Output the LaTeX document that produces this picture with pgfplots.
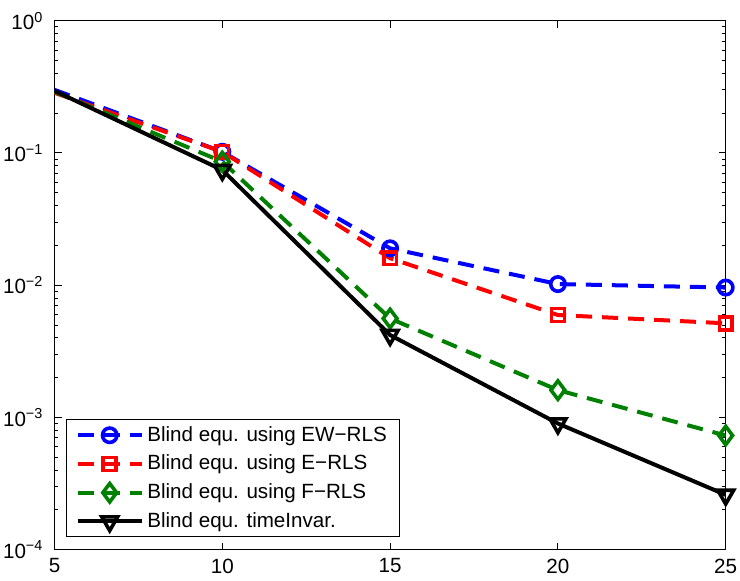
\documentclass[border=0pt]{standalone}
\usepackage{fontspec}
\setmainfont{Liberation Sans}
\usepackage{pgfplots}
\pgfplotsset{compat=1.18}
\definecolor{mblue}{rgb}{0,0,1}
\definecolor{mred}{rgb}{1,0,0}
\definecolor{mgreen}{rgb}{0,0.5,0}
\begin{document}
\begin{tikzpicture}
\begin{axis}[
  scale only axis, width=335.6pt, height=264.5pt,
  xmin=5, xmax=25, ymode=log, ymin=1e-4, ymax=1,
  xtick={5,10,15,20,25}, xticklabels={5,10,15,20,25},
  ytick={1e-4,1e-3,1e-2,1e-1,1},
  yticklabels={10\textsuperscript{−4},10\textsuperscript{−3},10\textsuperscript{−2},10\textsuperscript{−1},10\textsuperscript{0}},
  tick align=inside,
  major tick length=3.5pt, minor tick length=1.7pt,
  every tick/.style={black, line width=0.5pt},
  axis line style={line width=0.6pt},
  tick label style={font=\fontsize{10.3}{12}\selectfont},
  xticklabel style={yshift=-1pt},
  yticklabel style={xshift=-2pt},
  legend cell align=left,
  legend image code/.code={\draw[#1, mark indices={2}] plot coordinates {(0pt,0pt) (16pt,0pt) (32pt,0pt)};},
  legend style={at={(0,0)}, anchor=south west, xshift=5.75pt, yshift=6.2pt,
    draw=black, line width=0.5pt, inner xsep=4.6pt, inner ysep=0.5pt,
    font=\fontsize{10.3}{12}\selectfont,
    nodes={inner xsep=1.8pt, inner ysep=2.7pt}},
  every axis plot/.append style={line width=2pt},
]
\addplot[mblue, dash pattern=on 8pt off 5pt, mark=o, mark size=3.6pt, mark indices={2,3,4,5}, mark options={solid, line width=1.8pt}]
  coordinates {(5,0.30) (10,0.102) (15,0.0190) (20,0.0102) (25,0.0096)};
\addlegendentry{Blind equ. using EW−RLS}
\addplot[mred, dash pattern=on 8pt off 5pt, mark=square, mark size=3.2pt, mark indices={2,3,4,5}, mark options={solid, line width=1.8pt}]
  coordinates {(5,0.285) (10,0.102) (15,0.0160) (20,0.00595) (25,0.00515)};
\addlegendentry{Blind equ. using E−RLS}
\addplot[mgreen, dash pattern=on 8pt off 5pt, mark=diamond, mark size=4.6pt, mark indices={2,3,4,5}, mark options={solid, line width=1.8pt}]
  coordinates {(5,0.29) (10,0.086) (15,0.0056) (20,0.00161) (25,0.00073)};
\addlegendentry{Blind equ. using F−RLS}
\addplot[black, solid, mark=triangle, mark size=4.6pt, mark indices={2,3,4,5}, mark options={solid, rotate=180, line width=1.8pt}]
  coordinates {(5,0.295) (10,0.0743) (15,0.0042) (20,0.00090) (25,0.00026)};
\addlegendentry{Blind equ. timeInvar.}
\end{axis}
\pgfresetboundingbox
\path ([xshift=-27.25pt,yshift=-15.65pt]current axis.south west) rectangle ([xshift=7.15pt,yshift=10.35pt]current axis.north east);
\end{tikzpicture}
\end{document}
